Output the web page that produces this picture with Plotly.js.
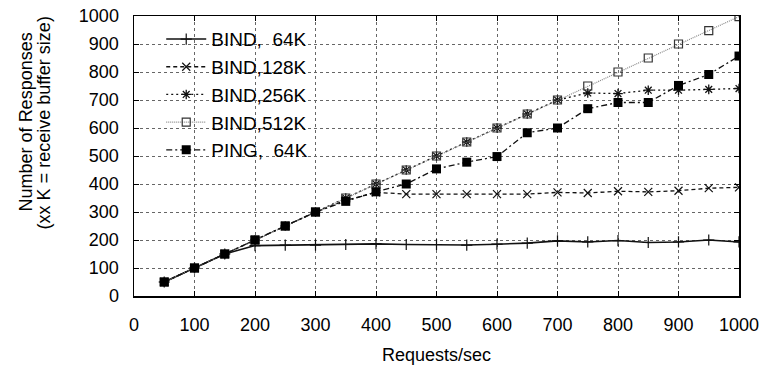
<!DOCTYPE html>
<html>
<head>
<meta charset="utf-8">
<script src="https://cdn.plot.ly/plotly-3.0.1.min.js"></script>
<style>html,body{margin:0;padding:0;background:#fff;}#chart{width:767px;height:373px;}</style>
</head>
<body>
<div id="chart"></div>
<script>
// Requests/sec
const requests = [50,100,150,200,250,300,350,400,450,500,550,600,650,700,750,800,850,900,950,1000];
// Number of responses per series
const bind64  = [50,100,150,180,182,182,184,186,184,184,182,185,189,197,193,198,191,193,200,193];
const bind128 = [50,100,150,200,250,300,342,370,364,364,364,364,364,370,368,374,372,376,385,388];
const bind256 = [50,100,150,200,250,300,350,400,450,500,550,600,650,700,725,723,735,735,738,741];
const bind512 = [50,100,150,200,250,300,350,400,450,500,550,600,650,700,750,800,850,900,948,998];
const ping64  = [50,100,150,200,250,300,338,372,400,454,478,498,583,600,669,691,691,752,791,857];
const seriesNames = ["BIND,  64K","BIND,128K","BIND,256K","BIND,512K","PING,  64K"];
const xTicks = [0,100,200,300,400,500,600,700,800,900,1000];
const yTicks = [0,100,200,300,400,500,600,700,800,900,1000];
const yTitleLines = ["Number of Responses", "(xx K = receive buffer size)"];
const xTitle = "Requests/sec";

const FONT = "'Liberation Sans', Arial, sans-serif";

const traces = [
  {x: requests, y: bind64, name: seriesNames[0], mode: 'lines+markers',
   line: {color: '#111', width: 1.6, dash: 'solid'},
   marker: {symbol: 'cross-thin-open', size: 8, color: '#111', line: {color: '#111', width: 1.2}}},
  {x: requests, y: bind128, name: seriesNames[1], mode: 'lines+markers',
   line: {color: '#111', width: 1.3, dash: '4px,3px'},
   marker: {symbol: 'x-thin-open', size: 8, color: '#111', line: {color: '#111', width: 1.2}}},
  {x: requests, y: bind256, name: seriesNames[2], mode: 'lines+markers',
   line: {color: '#111', width: 1.3, dash: '2px,3px'},
   marker: {symbol: 'asterisk-open', size: 8, color: '#111', line: {color: '#111', width: 1.3}}},
  {x: requests, y: bind512, name: seriesNames[3], mode: 'lines+markers',
   line: {color: '#888', width: 1.2, dash: '1px,1px'},
   marker: {symbol: 'square-open', size: 8, color: '#333', line: {color: '#333', width: 1.2}}},
  {x: requests, y: ping64, name: seriesNames[4], mode: 'lines+markers',
   line: {color: '#111', width: 1.3, dash: '6px,3px,2px,3px'},
   marker: {symbol: 'square', size: 9, color: '#000'}}
];

const layout = {
  width: 767, height: 373,
  margin: {l: 134, r: 28, t: 16, b: 77},
  paper_bgcolor: '#fff', plot_bgcolor: '#fff',
  font: {family: FONT, size: 18, color: '#000'},
  showlegend: true,
  legend: {x: 0.045, y: 0.985, xanchor: 'left', yanchor: 'top',
           bgcolor: 'rgba(255,255,255,0)', font: {family: FONT, size: 19, color: '#000'},
           tracegroupgap: 0, itemwidth: 40},
  xaxis: {range: [0, 1000], tickvals: xTicks, ticktext: xTicks.map(String),
          ticks: 'inside', ticklen: 5, tickcolor: '#000', mirror: 'allticks',
          showline: true, linecolor: '#000', linewidth: 1.5,
          showgrid: true, gridcolor: '#666', griddash: 'dot', gridwidth: 1,
          zeroline: false, ticklabelstandoff: 12,
          tickfont: {family: FONT, size: 18},
          title: {text: xTitle, font: {family: FONT, size: 18}, standoff: 14}},
  yaxis: {range: [0, 1000], tickvals: yTicks, ticktext: yTicks.map(String),
          ticks: 'inside', ticklen: 5, tickcolor: '#000', mirror: 'allticks',
          showline: true, linecolor: '#000', linewidth: 1.5,
          showgrid: true, gridcolor: '#666', griddash: 'dot', gridwidth: 1,
          zeroline: false, ticklabelstandoff: 10,
          tickfont: {family: FONT, size: 18}},
  annotations: [
    {text: yTitleLines[0], xref: 'paper', yref: 'paper', x: -0.1785, y: 0.62,
     xanchor: 'center', yanchor: 'middle', textangle: -90, showarrow: false,
     font: {family: FONT, size: 18, color: '#000'}},
    {text: yTitleLines[1], xref: 'paper', yref: 'paper', x: -0.1488, y: 0.62,
     xanchor: 'center', yanchor: 'middle', textangle: -90, showarrow: false,
     font: {family: FONT, size: 18, color: '#000'}}
  ]
};

Plotly.newPlot('chart', traces, layout, {displayModeBar: false, staticPlot: true});
</script>
</body>
</html>
